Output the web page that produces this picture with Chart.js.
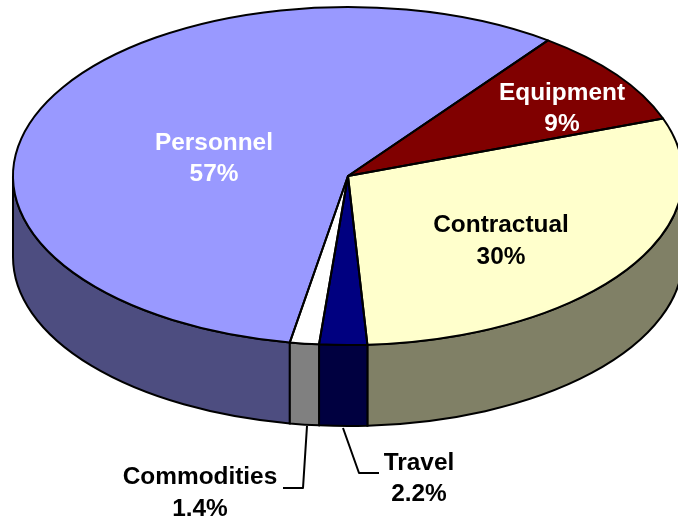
<!DOCTYPE html>
<html>
<head>
<meta charset="utf-8">
<title>Budget breakdown</title>
<style>
    html, body { margin: 0; padding: 0; background: #fff; overflow: hidden; }
    #wrap { width: 678px; height: 520px; }
</style>
</head>
<body>
<div id="wrap"><canvas id="pie" width="678" height="520"></canvas></div>
<script src="https://cdn.jsdelivr.net/npm/chart.js@4"></script>
<script>
// Slices, clockwise
const categories = ['Personnel', 'Equipment', 'Contractual', 'Travel', 'Commodities'];
// The printed labels are rounded
const shares = [57.4, 9.3, 29.6, 2.3, 1.4];
const shareLabels = ['57%', '9%', '30%', '2.2%', '1.4%'];
const topColors = ['#9999FF', '#800000', '#FFFFCC', '#000080', '#FFFFFF'];
const wallColors = ['#4D4D80', '#400000', '#808066', '#000040', '#808080'];
const labelColors = ['#FFFFFF', '#FFFFFF', '#000000', '#000000', '#000000'];

// Label centres, [x, name line y, value line y]
const labelSpots = [[214, 143, 174], [562, 93, 124], [501, 225, 257], [419, 463, 494], [200, 477, 509]];
// Leader lines for the two thin slices
const leaders = [
    [[307, 426], [303, 488], [283, 488]],
    [[343, 428], [359, 473], [379, 473]]
];

// Pie geometry on the page: the flat circle gets squashed to this ellipse
const CX = 348, CY = 176, RX = 335, RY = 169, DEPTH = 81;
const TWO_PI = Math.PI * 2;

const tiltedPie = {
    id: 'tiltedPie',
    beforeDatasetsDraw(chart) {
        const ctx = chart.ctx;
        const arcs = chart.getDatasetMeta(0).data;

        // Side wall, only the part facing the viewer (0..PI)
        ctx.lineWidth = 2;
        ctx.strokeStyle = '#000';
        arcs.forEach((arc, i) => {
            const span = wallSpan(arc);
            if (!span) return;
            ctx.beginPath();
            ctx.ellipse(CX, CY, RX, RY, 0, span[0], span[1]);
            ctx.ellipse(CX, CY + DEPTH, RX, RY, 0, span[1], span[0], true);
            ctx.closePath();
            ctx.fillStyle = wallColors[i];
            ctx.fill();
            ctx.stroke();
        });

        // Library draws the top face inside this transform
        const first = arcs[0];
        ctx.save();
        ctx.translate(CX, CY);
        ctx.scale(RX / first.outerRadius, RY / first.outerRadius);
        ctx.translate(-first.x, -first.y);
    },
    afterDatasetsDraw(chart) {
        const ctx = chart.ctx;
        ctx.restore();

        ctx.lineWidth = 2;
        ctx.strokeStyle = '#000';
        ctx.lineJoin = 'round';
        chart.getDatasetMeta(0).data.forEach(arc => {
            ctx.beginPath();
            ctx.moveTo(CX, CY);
            ctx.ellipse(CX, CY, RX, RY, 0, arc.startAngle, arc.endAngle);
            ctx.closePath();
            ctx.stroke();
        });

        leaders.forEach(pts => {
            ctx.beginPath();
            pts.forEach((p, i) => i ? ctx.lineTo(p[0], p[1]) : ctx.moveTo(p[0], p[1]));
            ctx.stroke();
        });

        ctx.font = 'bold 24.4px "Liberation Sans", Arial, sans-serif';
        ctx.textAlign = 'center';
        ctx.textBaseline = 'middle';
        categories.forEach((name, i) => {
            const spot = labelSpots[i];
            ctx.fillStyle = labelColors[i];
            ctx.fillText(name, spot[0], spot[1]);
            ctx.fillText(shareLabels[i], spot[0], spot[2]);
        });
    }
};

function wallSpan(arc) {
    let start = arc.startAngle % TWO_PI;
    if (start < 0) start += TWO_PI;
    const end = start + (arc.endAngle - arc.startAngle);
    // wraps past 2PI back into the front half
    if (end > TWO_PI) return [0, Math.min(end - TWO_PI, Math.PI)];
    if (start >= Math.PI) return null;
    return [start, Math.min(end, Math.PI)];
}

new Chart(document.getElementById('pie'), {
    type: 'pie',
    data: {
        labels: categories,
        datasets: [{
            data: shares,
            backgroundColor: topColors,
            borderWidth: 0,
            clip: false
        }]
    },
    options: {
        responsive: false,
        animation: false,
        rotation: 190,
        layout: { padding: 0 },
        plugins: { legend: { display: false }, tooltip: { enabled: false } }
    },
    plugins: [tiltedPie]
});
</script>
</body>
</html>
